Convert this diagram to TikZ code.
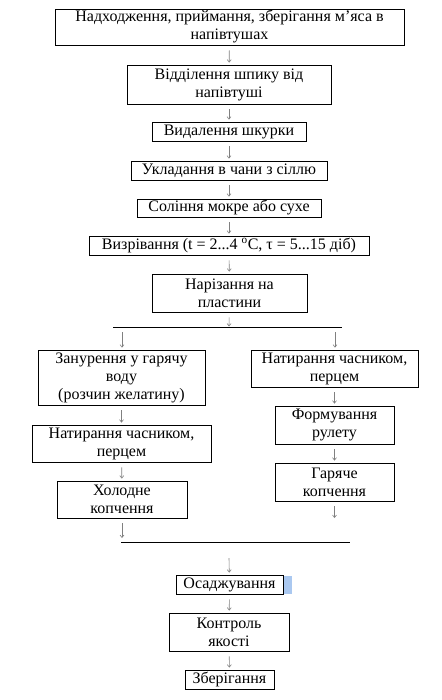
\documentclass[tikz,border=0pt]{standalone}
\usepackage{fontspec}
\setmainfont{Liberation Serif}
\usetikzlibrary{arrows.meta}
\definecolor{selblue}{RGB}{170,200,240}
\tikzset{
  box/.style={draw,thick,inner sep=0pt,align=center,font=\fontsize{16}{18}\selectfont},
  arr/.style={draw=gray,line width=0.6pt,-{Straight Barb[length=2.5pt,width=4pt]},shorten <=5pt,shorten >=2pt}
}
\begin{document}
\begin{tikzpicture}[x=1pt,y=-1pt]
  \useasboundingbox[fill=white] (0,0) rectangle (441,700);
  % Main line
  \node[box,minimum width=349,minimum height=36] (recv) at (229.5,27)
    {Надходження, приймання, зберігання м’яса в\\напівтушах};
  \node[box,minimum width=204,minimum height=39] (sep) at (229,84.5)
    {Відділення шпику від\\напівтуші};
  \node[box,minimum width=154,minimum height=19] (skin) at (229,131.5)
    {Видалення шкурки};
  \node[box,minimum width=196,minimum height=19] (vats) at (229,170.5)
    {Укладання в чани з сіллю};
  \node[box,minimum width=184,minimum height=18] (salt) at (229,208)
    {Соління мокре або сухе};
  \node[box,minimum width=280,minimum height=19] (ripe) at (229,245.5)
    {Визрівання (t = 2...4 \textsuperscript{o}C, τ = 5...15 діб)};
  \node[box,minimum width=155,minimum height=38] (cut) at (229.5,293)
    {Нарізання на\\пластини};
  \draw[arr] (recv) -- (sep);
  \draw[arr] (sep) -- (skin);
  \draw[arr] (skin) -- (vats);
  \draw[arr] (vats) -- (salt);
  \draw[arr] (salt) -- (ripe);
  \draw[arr] (ripe) -- (cut);
  % Split
  \coordinate (splitL) at (113,327);
  \coordinate (splitR) at (342,327);
  \coordinate (splitM) at (229,327);
  \draw[thick] (splitL) -- (splitR);
  \draw[arr,shorten >=0.5pt] (cut) -- (splitM);
  \coordinate (inL) at (122,327);
  \coordinate (inR) at (335,327);
  % Left branch
  \node[box,minimum width=167,minimum height=55] (dip) at (121.5,377.5)
    {Занурення у гарячу\\воду\\(розчин желатину)};
  \node[box,minimum width=179,minimum height=37] (rubL) at (121.5,443.5)
    {Натирання часником,\\перцем};
  \node[box,minimum width=130,minimum height=37] (cold) at (122,499.5)
    {Холодне\\копчення};
  \draw[arr] (inL) -- (dip.north -| inL);
  \draw[arr] (dip) -- (rubL);
  \draw[arr] (rubL) -- (cold);
  % Right branch
  \node[box,minimum width=167,minimum height=37] (rubR) at (334.5,368.5)
    {Натирання часником,\\перцем};
  \node[box,minimum width=119,minimum height=38] (roll) at (334.5,425)
    {Формування\\рулету};
  \node[box,minimum width=119,minimum height=38] (hot) at (334.5,482)
    {Гаряче\\копчення};
  \draw[arr] (inR) -- (rubR.north -| inR);
  \draw[arr] (rubR) -- (roll);
  \draw[arr] (roll) -- (hot);
  \coordinate (hotOut) at (334.5,518);
  \draw[arr,shorten >=0pt] (hot) -- (hotOut);
  % Join
  \coordinate (joinL) at (121,542);
  \coordinate (joinR) at (350,542);
  \coordinate (coldOut) at (122,538);
  \draw[thick] (joinL) -- (joinR);
  \draw[arr,shorten >=0pt] (cold) -- (coldOut);
  % Final steps
  \coordinate (joinM) at (229,558);
  \node[box,minimum width=107,minimum height=19] (settle) at (229.5,584.5)
    {Осаджування};
  \fill[selblue] (284,576) rectangle (292,594);
  \node[box,minimum width=120,minimum height=38] (qc) at (229,632)
    {Контроль\\якості};
  \node[box,minimum width=89,minimum height=19] (store) at (229.5,679.5)
    {Зберігання};
  \draw[arr,shorten <=0pt] (joinM) -- (settle);
  \draw[arr] (settle) -- (qc);
  \draw[arr] (qc) -- (store);
\end{tikzpicture}
\end{document}
